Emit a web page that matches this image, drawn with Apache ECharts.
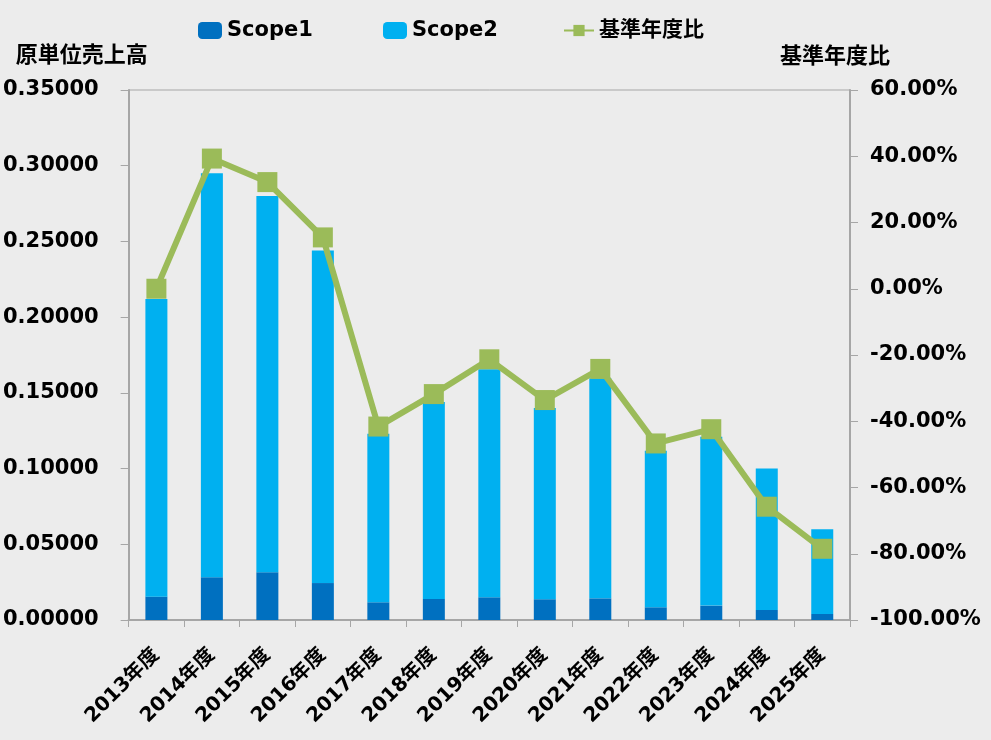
<!DOCTYPE html>
<html>
<head>
<meta charset="utf-8">
<script src="https://cdn.jsdelivr.net/npm/echarts@6/dist/echarts.min.js"></script>
<style>
  html, body { margin: 0; padding: 0; background: #ececec; }
  #chart { width: 991px; height: 740px; }
</style>
</head>
<body>
<div id="chart"></div>
<script>
// categories (fiscal years)
const years = ["2013年度", "2014年度", "2015年度", "2016年度", "2017年度", "2018年度", "2019年度",
  "2020年度", "2021年度", "2022年度", "2023年度", "2024年度", "2025年度"];

// 原単位売上高 split by scope
const scope1 = [0.0154, 0.0282, 0.0315, 0.0244, 0.0117, 0.0139, 0.0150,
  0.0137, 0.0143, 0.0084, 0.0095, 0.0066, 0.0040];
const scope2 = [0.1966, 0.2668, 0.2485, 0.2196, 0.1113, 0.1301, 0.1506,
  0.1263, 0.1453, 0.1034, 0.1115, 0.0934, 0.0560];

// 基準年度比 (%)
const baseRatio = [0.0, 39.3, 32.2, 15.5, -41.6, -31.8, -21.3,
  -33.6, -24.2, -46.7, -42.4, -65.8, -78.5];

const font = "'DejaVu Sans', 'Noto Sans CJK JP', sans-serif";
const axisGray = "#a6a6a6";

const chart = echarts.init(document.getElementById("chart"), null, { renderer: "canvas" });

const legendText = { fontFamily: font, fontWeight: "bold", fontSize: 21, color: "#000" };

const option = {
  backgroundColor: "#ececec",
  textStyle: { fontFamily: font },
  legend: [
    { data: ["Scope1"], left: 193, top: 15, itemWidth: 24, itemHeight: 17, itemGap: 4, textStyle: legendText },
    { data: ["Scope2"], left: 378, top: 15, itemWidth: 24, itemHeight: 17, itemGap: 4, textStyle: legendText },
    { data: ["基準年度比"], left: 558, top: 15, itemWidth: 30, itemHeight: 14, textStyle: legendText }
  ],
  grid: {
    left: 128, right: 141, top: 90, bottom: 120,
    show: true, borderColor: axisGray, borderWidth: 1, backgroundColor: "transparent"
  },
  xAxis: {
    type: "category",
    data: years,
    axisLine: { lineStyle: { color: axisGray, width: 2 } },
    axisTick: { show: true, length: 7, lineStyle: { color: axisGray } },
    axisLabel: {
      rotate: 45, margin: 32, interval: 0,
      fontFamily: font, fontWeight: "bold", fontSize: 20, color: "#000"
    }
  },
  yAxis: [
    {
      type: "value",
      min: 0, max: 0.35, interval: 0.05,
      name: "原単位売上高",
      nameLocation: "end",
      nameGap: 23,
      nameTextStyle: {
        fontFamily: font, fontWeight: "bold", fontSize: 22, color: "#000",
        align: "center", padding: [0, 94, 0, 0]
      },
      axisLine: { show: true, lineStyle: { color: axisGray, width: 2 } },
      axisTick: { show: true, length: 8, lineStyle: { color: axisGray } },
      splitLine: { show: false },
      axisLabel: {
        margin: 30,
        fontFamily: font, fontWeight: "bold", fontSize: 21, color: "#000",
        formatter: v => v.toFixed(5)
      }
    },
    {
      type: "value",
      position: "right",
      min: -100, max: 60, interval: 20,
      name: "基準年度比",
      nameLocation: "end",
      nameGap: 22,
      nameTextStyle: {
        fontFamily: font, fontWeight: "bold", fontSize: 22, color: "#000",
        align: "center", padding: [0, 30, 0, 0]
      },
      axisLine: { show: true, lineStyle: { color: axisGray, width: 2 } },
      axisTick: { show: true, length: 8, lineStyle: { color: axisGray } },
      splitLine: { show: false },
      axisLabel: {
        margin: 20,
        fontFamily: font, fontWeight: "bold", fontSize: 21, color: "#000",
        formatter: v => v.toFixed(2) + "%"
      }
    }
  ],
  series: [
    {
      name: "Scope1",
      type: "bar",
      stack: "total",
      barWidth: 22,
      itemStyle: { color: "#0070c0" },
      data: scope1
    },
    {
      name: "Scope2",
      type: "bar",
      stack: "total",
      barWidth: 22,
      itemStyle: { color: "#00b0f0" },
      data: scope2
    },
    {
      name: "基準年度比",
      type: "line",
      yAxisIndex: 1,
      symbol: "rect",
      symbolSize: 20,
      lineStyle: { color: "#9bbb59", width: 6 },
      itemStyle: { color: "#9bbb59" },
      data: baseRatio,
      z: 5
    }
  ]
};

chart.setOption(option);
</script>
</body>
</html>
